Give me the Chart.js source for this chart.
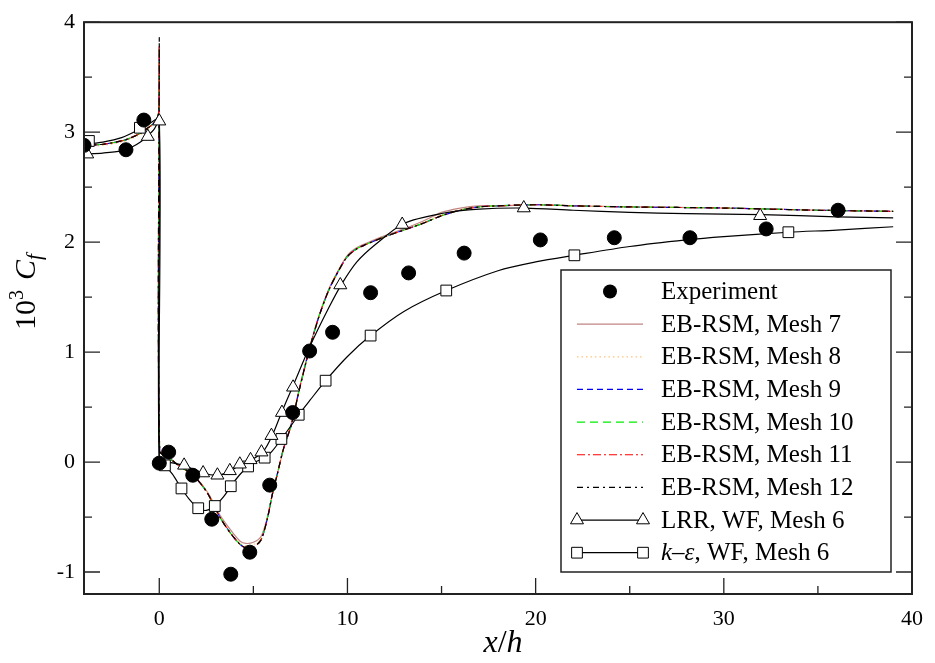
<!DOCTYPE html>
<html lang="en">
<head>
<meta charset="UTF-8">
<title>Skin friction coefficient</title>
<script src="https://cdn.jsdelivr.net/npm/chart.js@4.4.1/dist/chart.umd.min.js"></script>
<style>
  body { margin: 0; background: #fff; }
</style>
</head>
<body>
<canvas id="cf" width="935" height="663"></canvas>
<script>
// axis ticks
const xTicks = [0, 10, 20, 30, 40];
const yTicks = [-1, 0, 1, 2, 3, 4];

// experiment (filled circles)
const expX = [-4, -1.77, -0.82, 0, 0.5, 1.78, 2.79, 3.8, 4.81, 5.87, 7.09, 7.99, 9.21, 11.23, 13.25, 16.2, 20.25, 24.18, 28.2, 32.25, 36.07];
const expY = [2.88, 2.84, 3.11, -0.01, 0.09, -0.12, -0.52, -1.02, -0.82, -0.21, 0.45, 1.01, 1.18, 1.54, 1.72, 1.90, 2.02, 2.04, 2.04, 2.12, 2.29];

// EB-RSM, meshes 7..12 (shared x)
const ebX = [-4, -3, -2, -1.5, -1, -0.6, -0.3, -0.1, -0.02, 0, 0.02, 0.5, 1.1, 1.8, 2.55, 3.25, 3.8, 4.3, 4.6, 5.0,
             5.4, 5.75, 6.0, 6.3, 6.6, 7.0, 7.5, 8.0, 8.5, 9.0, 9.5, 10, 10.5, 11, 12, 13, 14, 15, 16, 17,
             18, 20, 22, 25, 30, 35, 39];
const eb7 = [2.88, 2.89, 2.92, 2.95, 2.99, 3.04, 3.08, 3.13, 3.2, 3.72, 0.1, 0.04, -0.04, -0.12, -0.27, -0.49, -0.62, -0.72, -0.74, -0.73,
             -0.68, -0.5, -0.3, -0.09, 0.12, 0.34, 0.71, 1.05, 1.34, 1.57, 1.74, 1.88, 1.95, 1.99, 2.06, 2.12, 2.19, 2.27, 2.31, 2.33,
             2.33, 2.34, 2.33, 2.32, 2.31, 2.29, 2.28];
const eb8 = [2.87, 2.88, 2.91, 2.94, 2.98, 3.03, 3.08, 3.13, 3.2, 3.74, 0.1, 0.04, -0.04, -0.12, -0.27, -0.5, -0.64, -0.74, -0.76, -0.75,
             -0.7, -0.5, -0.3, -0.09, 0.12, 0.33, 0.7, 1.04, 1.33, 1.56, 1.73, 1.87, 1.94, 1.98, 2.05, 2.11, 2.18, 2.25, 2.3, 2.32,
             2.33, 2.34, 2.33, 2.32, 2.31, 2.29, 2.28];
const eb9 = [2.88, 2.89, 2.92, 2.95, 2.99, 3.04, 3.08, 3.13, 3.2, 3.75, 0.1, 0.04, -0.04, -0.12, -0.28, -0.51, -0.65, -0.75, -0.78, -0.77,
             -0.71, -0.51, -0.3, -0.09, 0.12, 0.33, 0.7, 1.04, 1.33, 1.56, 1.73, 1.87, 1.94, 1.98, 2.05, 2.11, 2.17, 2.24, 2.29, 2.32,
             2.33, 2.34, 2.33, 2.32, 2.31, 2.29, 2.28];
const eb10 = [2.88, 2.89, 2.92, 2.95, 2.99, 3.04, 3.08, 3.13, 3.2, 3.76, 0.1, 0.04, -0.04, -0.12, -0.28, -0.51, -0.65, -0.75, -0.78, -0.77,
              -0.71, -0.51, -0.3, -0.09, 0.12, 0.33, 0.7, 1.04, 1.33, 1.56, 1.73, 1.87, 1.94, 1.98, 2.05, 2.11, 2.17, 2.24, 2.29, 2.32,
              2.33, 2.34, 2.33, 2.32, 2.31, 2.29, 2.28];
const eb11 = [2.88, 2.89, 2.92, 2.95, 2.99, 3.04, 3.08, 3.13, 3.2, 3.77, 0.1, 0.04, -0.04, -0.12, -0.28, -0.51, -0.65, -0.75, -0.78, -0.77,
              -0.71, -0.51, -0.3, -0.09, 0.12, 0.33, 0.7, 1.04, 1.33, 1.56, 1.73, 1.87, 1.94, 1.98, 2.05, 2.11, 2.17, 2.24, 2.29, 2.32,
              2.33, 2.34, 2.33, 2.32, 2.31, 2.29, 2.28];
const eb12 = [2.88, 2.89, 2.92, 2.95, 2.99, 3.04, 3.08, 3.13, 3.2, 3.84, 0.1, 0.04, -0.04, -0.12, -0.28, -0.51, -0.65, -0.75, -0.78, -0.77,
              -0.71, -0.51, -0.3, -0.09, 0.12, 0.33, 0.7, 1.04, 1.33, 1.56, 1.73, 1.87, 1.94, 1.98, 2.05, 2.11, 2.17, 2.24, 2.29, 2.32,
              2.33, 2.34, 2.33, 2.32, 2.31, 2.29, 2.28];

// LRR, WF, Mesh 6
const lrrX = [-4, -3, -2, -1.5, -1, -0.6, -0.3, 0, 0, 0.5, 1.3, 2.35, 3.1, 3.8, 4.3, 4.9, 5.5, 6.0, 6.5, 7.1,
              8, 9, 9.7, 10.5, 11.5, 13, 15, 17, 19.4, 22, 25, 28, 32, 36, 39];
const lrrY = [2.8, 2.81, 2.83, 2.86, 2.91, 2.97, 3.02, 3.1, 0.02, 0.0, -0.03, -0.1, -0.12, -0.08, -0.02, 0.02, 0.09, 0.24, 0.45, 0.69,
              1.05, 1.4, 1.62, 1.82, 1.98, 2.17, 2.26, 2.3, 2.31, 2.29, 2.27, 2.26, 2.25, 2.23, 2.22];
const lrrMarkX = [-3.83, -0.61, 0, 1.32, 2.33, 3.09, 3.75, 4.28, 4.85, 5.43, 5.96, 6.52, 7.11, 9.62, 12.91, 19.37, 31.93];
const lrrMarkY = [2.8, 2.96, 3.1, -0.03, -0.1, -0.12, -0.08, -0.02, 0.02, 0.09, 0.24, 0.45, 0.68, 1.61, 2.16, 2.31, 2.24];

// k-epsilon, WF, Mesh 6
const keX = [-4, -3, -2, -1, -0.5, 0, 0, 0.3, 0.7, 1.18, 1.6, 2.07, 2.5, 2.95, 3.4, 3.8, 4.25, 4.72, 5.1, 5.6,
             6.0, 6.49, 7.0, 7.41, 8.0, 8.84, 10, 11.23, 13, 15.25, 18, 20, 22.06, 25, 28, 30, 33.43, 36, 39];
const keY = [2.89, 2.91, 2.95, 3.03, 3.08, 3.12, 0.02, -0.03, -0.11, -0.24, -0.34, -0.42, -0.44, -0.40, -0.32, -0.22, -0.12, -0.04, 0.0, 0.04,
             0.1, 0.21, 0.33, 0.43, 0.56, 0.74, 0.96, 1.15, 1.37, 1.56, 1.74, 1.82, 1.88, 1.96, 2.02, 2.05, 2.09, 2.11, 2.14];
const keMarkX = [-3.74, -1.03, 0.3, 1.18, 2.07, 2.95, 3.8, 4.72, 5.6, 6.49, 7.41, 8.84, 11.23, 15.25, 22.06, 33.43];
const keMarkY = [2.92, 3.04, -0.03, -0.24, -0.42, -0.40, -0.22, -0.04, 0.04, 0.21, 0.43, 0.74, 1.15, 1.56, 1.88, 2.09];

const serif = '"Liberation Serif", "Times New Roman", serif';
const pts = (xs, ys) => xs.map((x, i) => ({ x: x, y: ys[i] }));

const ebLines = [
  { label: 'EB-RSM, Mesh 7', ys: eb7, color: '#c08484', dash: [] },
  { label: 'EB-RSM, Mesh 8', ys: eb8, color: '#ffc57a', dash: [1.5, 3] },
  { label: 'EB-RSM, Mesh 9', ys: eb9, color: '#0000ff', dash: [6, 4] },
  { label: 'EB-RSM, Mesh 10', ys: eb10, color: '#00ee00', dash: [8, 5] },
  { label: 'EB-RSM, Mesh 11', ys: eb11, color: '#ff0000', dash: [8, 3, 2, 3] },
  { label: 'EB-RSM, Mesh 12', ys: eb12, color: '#000000', dash: [6, 4, 2, 4] },
];

const datasets = [
  { data: pts(expX, expY), pointStyle: 'circle', pointRadius: 7, backgroundColor: '#000', borderColor: '#000', showLine: false, order: 0 },
  { data: pts(lrrMarkX, lrrMarkY), pointStyle: 'triangle', pointRadius: 7.5, backgroundColor: '#fff', borderColor: '#000', borderWidth: 1, showLine: false, order: 1 },
  { data: pts(keMarkX, keMarkY), pointStyle: 'rect', pointRadius: 7.6, backgroundColor: '#fff', borderColor: '#000', borderWidth: 1, showLine: false, order: 2 },
  { data: pts(lrrX, lrrY), showLine: true, borderColor: '#000', borderWidth: 1.2, pointRadius: 0, tension: 0.3, order: 3 },
  { data: pts(keX, keY), showLine: true, borderColor: '#000', borderWidth: 1.2, pointRadius: 0, tension: 0.3, order: 4 },
];
ebLines.forEach((s, i) => datasets.push({
  data: pts(ebX, s.ys), showLine: true, borderColor: s.color, borderDash: s.dash,
  borderWidth: 1.2, pointRadius: 0, tension: 0.3, order: 10 - i
}));

function drawPieces(ctx, pieces, x, y) {
  pieces.forEach(p => {
    ctx.font = p.font;
    ctx.fillText(p.t, x, y + (p.dy || 0));
    x += ctx.measureText(p.t).width;
  });
  return x;
}
function piecesWidth(ctx, pieces) {
  let w = 0;
  pieces.forEach(p => { ctx.font = p.font; w += ctx.measureText(p.t).width; });
  return w;
}

const decor = {
  id: 'decor',
  afterDraw(chart) {
    const { ctx, chartArea: a, scales: { x, y } } = chart;
    ctx.save();
    ctx.strokeStyle = '#222';
    ctx.fillStyle = '#000';

    // inward ticks: bottom, left, right
    ctx.lineWidth = 1.3;
    ctx.beginPath();
    xTicks.forEach((v, i) => {
      const px = x.getPixelForValue(v);
      ctx.moveTo(px, a.bottom); ctx.lineTo(px, a.bottom - 16);
      if (i < xTicks.length - 1) {
        const pm = x.getPixelForValue((v + xTicks[i + 1]) / 2);
        ctx.moveTo(pm, a.bottom); ctx.lineTo(pm, a.bottom - 8);
      }
    });
    yTicks.forEach((v, i) => {
      const py = y.getPixelForValue(v);
      ctx.moveTo(a.left, py); ctx.lineTo(a.left + 16, py);
      ctx.moveTo(a.right, py); ctx.lineTo(a.right - 16, py);
      if (i < yTicks.length - 1) {
        const pm = y.getPixelForValue((v + yTicks[i + 1]) / 2);
        ctx.moveTo(a.left, pm); ctx.lineTo(a.left + 8, pm);
        ctx.moveTo(a.right, pm); ctx.lineTo(a.right - 8, pm);
      }
    });
    ctx.stroke();

    // frame
    ctx.lineWidth = 2;
    ctx.strokeRect(a.left, a.top, a.right - a.left, a.bottom - a.top);

    // axis titles
    ctx.textBaseline = 'alphabetic';
    ctx.textAlign = 'left';
    const xt = [{ t: 'x', font: 'italic 32px ' + serif }, { t: '/', font: '32px ' + serif }, { t: 'h', font: 'italic 32px ' + serif }];
    drawPieces(ctx, xt, 503 - piecesWidth(ctx, xt) / 2, 652);

    const yt = [
      { t: '10', font: '30px ' + serif },
      { t: '3', font: '20px ' + serif, dy: -12 },
      { t: '  ', font: '20px ' + serif },
      { t: 'C', font: 'italic 30px ' + serif },
      { t: 'f', font: 'italic 21px ' + serif, dy: 6 },
    ];
    ctx.save();
    ctx.translate(35, 292);
    ctx.rotate(-Math.PI / 2);
    drawPieces(ctx, yt, -piecesWidth(ctx, yt) / 2, 0);
    ctx.restore();

    // legend
    const L = { left: 561, top: 270, right: 891, bottom: 572 };
    ctx.fillStyle = '#fff';
    ctx.fillRect(L.left, L.top, L.right - L.left, L.bottom - L.top);
    ctx.lineWidth = 1.5;
    ctx.strokeStyle = '#222';
    ctx.strokeRect(L.left, L.top, L.right - L.left, L.bottom - L.top);

    const x0 = 577, x1 = 643, tx = 661, rowH = 32.65;
    const rowY = i => 291.5 + i * rowH;
    const font = '25px ' + serif;
    ctx.textBaseline = 'middle';
    ctx.fillStyle = '#000';

    // Experiment
    ctx.beginPath();
    ctx.arc((x0 + x1) / 2, rowY(0), 7, 0, Math.PI * 2);
    ctx.fill();
    ctx.font = font;
    ctx.fillText('Experiment', tx, rowY(0) + 1);

    ebLines.forEach((s, i) => {
      const yy = rowY(i + 1);
      ctx.save();
      ctx.strokeStyle = s.color;
      ctx.lineWidth = 1.2;
      ctx.setLineDash(s.dash);
      ctx.beginPath(); ctx.moveTo(x0, yy); ctx.lineTo(x1, yy); ctx.stroke();
      ctx.restore();
      ctx.font = font;
      ctx.fillText(s.label, tx, yy + 1);
    });

    const marker = (style, r, yy) => {
      [x0, x1].forEach(px => {
        Chart.helpers.drawPoint(ctx, { pointStyle: style, radius: r, borderWidth: 1 }, px, yy);
      });
    };
    // LRR
    let yy = rowY(7);
    ctx.strokeStyle = '#000'; ctx.lineWidth = 1.2;
    ctx.beginPath(); ctx.moveTo(x0, yy); ctx.lineTo(x1, yy); ctx.stroke();
    ctx.fillStyle = '#fff'; ctx.lineWidth = 1;
    marker('triangle', 7.5, yy);
    ctx.fillStyle = '#000';
    ctx.font = font;
    ctx.fillText('LRR, WF, Mesh 6', tx, yy + 1);
    // k-eps
    yy = rowY(8);
    ctx.lineWidth = 1.2;
    ctx.beginPath(); ctx.moveTo(x0, yy); ctx.lineTo(x1, yy); ctx.stroke();
    ctx.fillStyle = '#fff'; ctx.lineWidth = 1;
    marker('rect', 7.6, yy);
    ctx.fillStyle = '#000';
    drawPieces(ctx, [
      { t: 'k', font: 'italic 25px ' + serif },
      { t: '\u2013', font: font },
      { t: '\u03b5', font: 'italic 25px ' + serif },
      { t: ', WF, Mesh 6', font: font },
    ], tx, yy + 1);

    ctx.restore();
  }
};

new Chart(document.getElementById('cf'), {
  type: 'scatter',
  data: { datasets: datasets },
  options: {
    responsive: false,
    animation: false,
    devicePixelRatio: 1,
    layout: { padding: { top: 13, right: 22, left: 0, bottom: 0 } },
    plugins: { legend: { display: false }, tooltip: { enabled: false } },
    scales: {
      x: {
        type: 'linear', min: -4, max: 40,
        grid: { display: false, drawTicks: false },
        border: { display: false },
        ticks: { color: '#000', padding: 12, font: { family: serif, size: 22 } },
        afterBuildTicks: s => { s.ticks = xTicks.map(v => ({ value: v })); },
        afterFit: s => { s.height = 69; }
      },
      y: {
        type: 'linear', min: -1.2, max: 4,
        grid: { display: false, drawTicks: false },
        border: { display: false },
        ticks: { color: '#000', padding: 9, font: { family: serif, size: 22 } },
        afterBuildTicks: s => { s.ticks = yTicks.map(v => ({ value: v })); },
        afterFit: s => { s.width = 84; }
      }
    }
  },
  plugins: [decor]
});
</script>
</body>
</html>
